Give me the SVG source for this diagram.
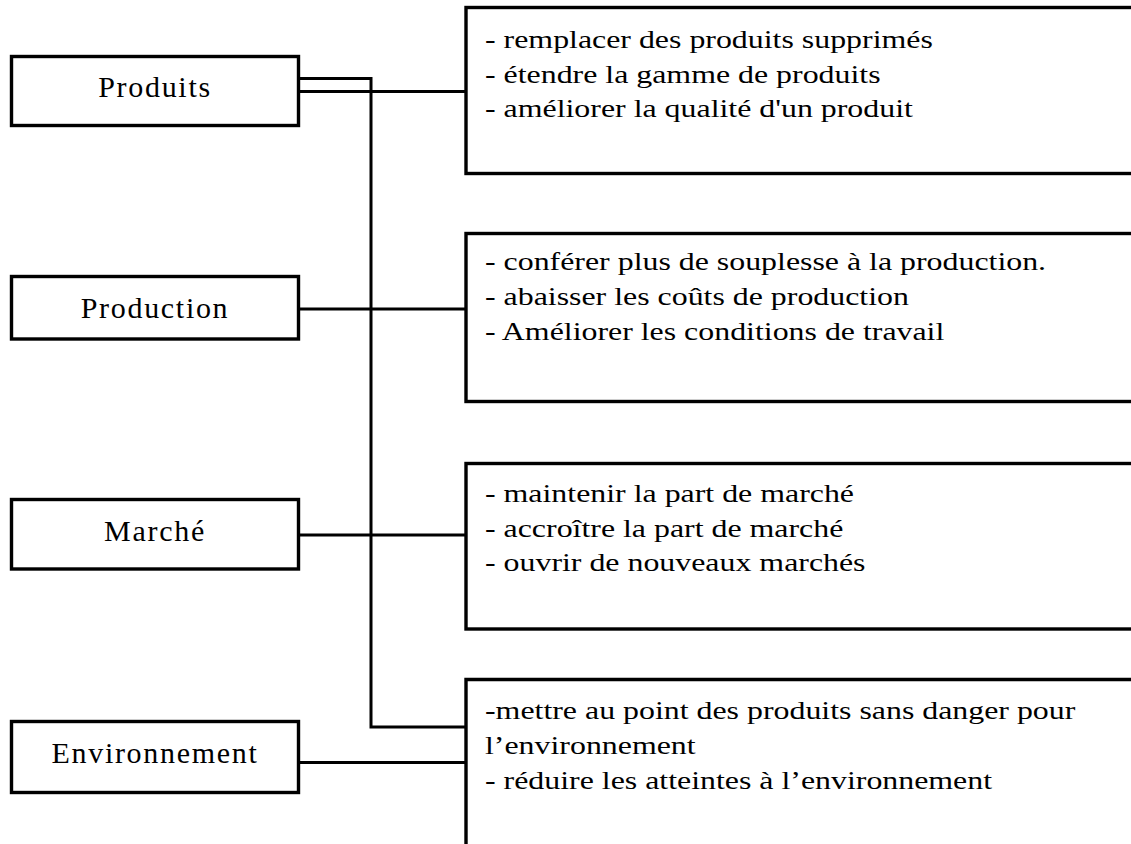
<svg xmlns="http://www.w3.org/2000/svg" width="1131" height="844" viewBox="0 0 1131 844">
  <style>
    .box { fill: #fff; stroke: #000; stroke-width: 3.4; }
    .open { fill: none; stroke: #000; stroke-width: 3.4; }
    .label { font-family: "Liberation Serif", "Times New Roman", serif; font-size: 30px; letter-spacing: 1.7px; fill: #000; text-anchor: middle; }
    .item { font-family: "Liberation Serif", "Times New Roman", serif; font-size: 25.5px; fill: #000; }
    .wire { fill: none; stroke: #000; stroke-width: 3; stroke-linejoin: miter; }
  </style>

  <rect width="1131" height="844" fill="#fff"/>

  <!-- connectors -->
  <g id="connectors">
    <path class="wire" d="M298,78.5 H371 V727 H466"/>
    <path class="wire" d="M298,91.5 H466"/>
    <path class="wire" d="M298,309 H466"/>
    <path class="wire" d="M296,535 H466"/>
    <path class="wire" d="M296,762.5 H466"/>
  </g>

  <!-- left-hand categories -->
  <g id="produits">
    <rect class="box" x="11.5" y="56.5" width="287" height="69"/>
    <text class="label" x="155" y="97">Produits</text>
  </g>
  <g id="production">
    <rect class="box" x="11.5" y="276.5" width="287" height="62.5"/>
    <text class="label" x="155" y="318">Production</text>
  </g>
  <g id="marche">
    <rect class="box" x="11.5" y="499.5" width="287" height="69.5"/>
    <text class="label" x="155" y="540.5">Marché</text>
  </g>
  <g id="environnement">
    <rect class="box" x="11.5" y="721.5" width="287" height="71"/>
    <text class="label" x="155" y="762.5">Environnement</text>
  </g>

  <!-- right-hand objectives (boxes run off the right edge) -->
  <g id="objectifs-produits">
    <rect class="box" x="466" y="7.5" width="700" height="166"/>
    <g transform="translate(485,0) scale(1.25,1)">
      <text class="item" x="0" y="48.5">- remplacer des produits supprimés</text>
      <text class="item" x="0" y="83">- étendre la gamme de produits</text>
      <text class="item" x="0" y="117.5">- améliorer la qualité d'un produit</text>
    </g>
  </g>
  <g id="objectifs-production">
    <rect class="box" x="466" y="233.5" width="700" height="168"/>
    <g transform="translate(485,0) scale(1.25,1)">
      <text class="item" x="0" y="270.5">- conférer plus de souplesse à la production.</text>
      <text class="item" x="0" y="305.5">- abaisser les coûts de production</text>
      <text class="item" x="0" y="340.5">- Améliorer les conditions de travail</text>
    </g>
  </g>
  <g id="objectifs-marche">
    <rect class="box" x="466" y="463.5" width="700" height="165.5"/>
    <g transform="translate(485,0) scale(1.25,1)">
      <text class="item" x="0" y="502.5">- maintenir la part de marché</text>
      <text class="item" x="0" y="537">- accroître la part de marché</text>
      <text class="item" x="0" y="571.5">- ouvrir de nouveaux marchés</text>
    </g>
  </g>
  <g id="objectifs-environnement">
    <path class="open" d="M1140,679.5 H466 V850"/>
    <g transform="translate(485,0) scale(1.25,1)">
      <text class="item" x="0" y="719.5">-mettre au point des produits sans danger pour</text>
      <text class="item" x="0" y="754">l’environnement</text>
      <text class="item" x="0" y="789.5">- réduire les atteintes à l’environnement</text>
    </g>
  </g>
</svg>
